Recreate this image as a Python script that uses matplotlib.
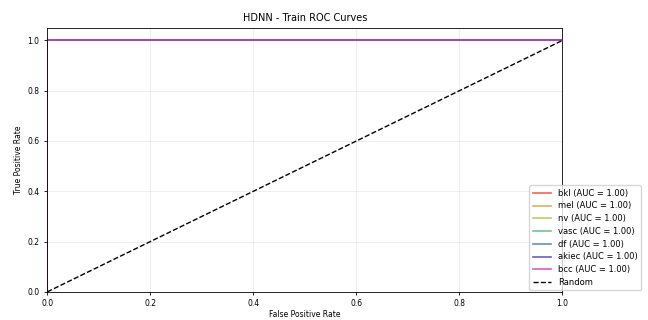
import matplotlib
matplotlib.use("Agg")
import matplotlib.pyplot as plt
import numpy as np

classes = ["bkl", "mel", "nv", "vasc", "df", "akiec", "bcc"]
auc_values = [1.00, 1.00, 1.00, 1.00, 1.00, 1.00, 1.00]
# perfect-separation curves
fpr_points = [0.0, 0.0, 1.0]
tpr_points = [0.0, 1.0, 1.0]

colors = ["#e0503a", "#d8a53a", "#a8c84a", "#4cc27a", "#3f7fc4", "#5a3fa8", "#d040b0"]

fig = plt.figure(figsize=(6.48, 3.2), dpi=100)
ax = fig.add_axes([0.073, 0.088, 0.795, 0.825])

for name, auc, c in zip(classes, auc_values, colors):
    ax.plot(fpr_points, tpr_points, color=c, lw=1.2, alpha=0.85,
            label=f"{name} (AUC = {auc:.2f})")
ax.plot([0, 1], [0, 1], "k--", lw=1.0, label="Random")

ax.set_xlim(0, 1)
ax.set_ylim(0, 1.05)
ax.set_xticks(np.arange(0, 1.01, 0.2))
ax.set_yticks(np.arange(0, 1.01, 0.2))
ax.tick_params(labelsize=5.5, length=2, width=0.6)
ax.grid(True, alpha=0.3, lw=0.5)
for s in ax.spines.values():
    s.set_linewidth(0.6)
ax.set_xlabel("False Positive Rate", fontsize=5.5, labelpad=1)
ax.set_ylabel("True Positive Rate", fontsize=5.5, labelpad=3)
ax.set_title("HDNN - Train ROC Curves", fontsize=7, pad=5)
ax.legend(loc="lower right", bbox_to_anchor=(1.16, -0.01), fontsize=6,
          handlelength=2.2, labelspacing=0.45, borderpad=0.4, framealpha=0.8)

fig.savefig("out.png", dpi=100)
plt.close(fig)
